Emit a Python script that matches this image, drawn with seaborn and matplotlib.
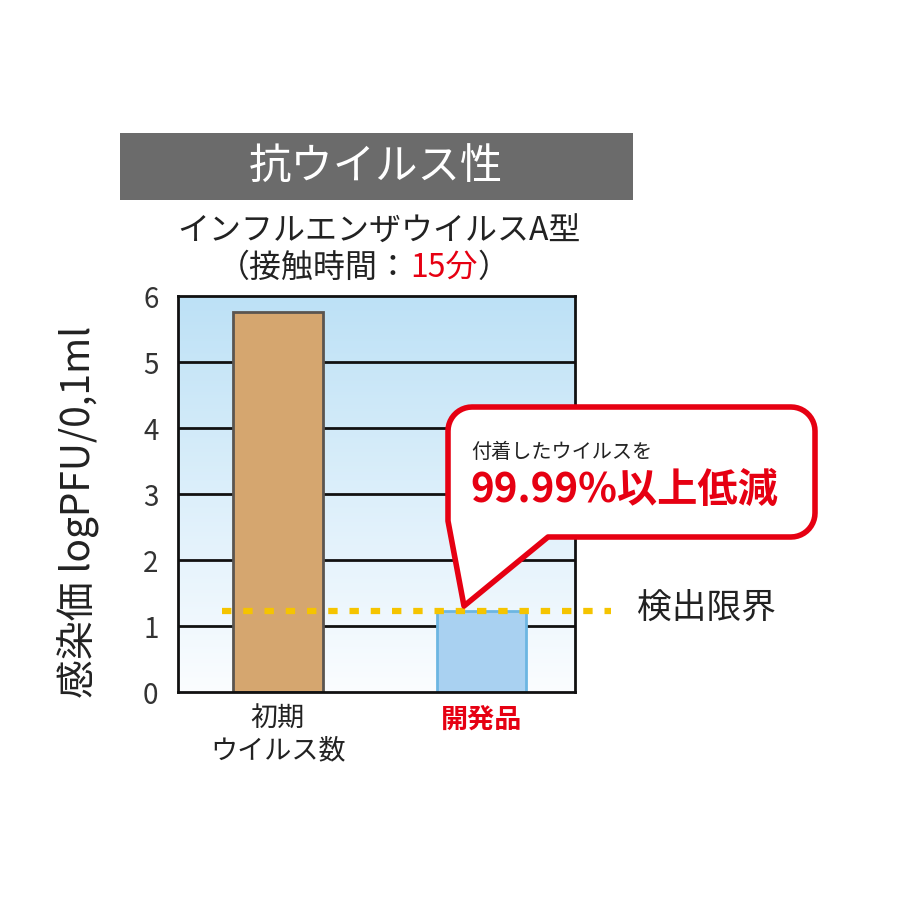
import numpy as np
import matplotlib
matplotlib.use("Agg")
import matplotlib.pyplot as plt
import seaborn as sns
from matplotlib.patches import Rectangle, Polygon
from matplotlib.colors import LinearSegmentedColormap

# ---- data ----
categories = ["初期\nウイルス数", "開発品"]
values = [5.76, 1.23]
detection_limit = 1.23
yticks = [0, 1, 2, 3, 4, 5, 6]
bar_colors = ["#d5a66f", "#a9d1f1"]
bar_edges = ["#5a5550", "#6cb6e2"]

sns.set_theme(style="white")
plt.rcParams['font.family'] = ['Noto Sans CJK JP', 'DejaVu Sans']

W = H = 900
fig = plt.figure(figsize=(9, 9), dpi=100)
fig.patch.set_facecolor("white")

def fx(px):
    return px / W

def fy(py):
    return 1 - py / H

ax = fig.add_axes([fx(178), fy(692), fx(575) - fx(178), fy(296) - fy(692)])

# gradient background
grad = np.linspace(0, 1, 256).reshape(-1, 1)
cmap = LinearSegmentedColormap.from_list("bg", ["#fbfdff", "#bde1f6"])
ax.imshow(grad, aspect="auto", cmap=cmap, origin="lower",
          extent=[-0.49, 1.46, 0, 6], zorder=0)

# grid lines
for v in yticks[1:-1]:
    ax.axhline(v, color="#111111", lw=2.0, zorder=1)

sns.barplot(x=categories, y=values, hue=categories, palette=bar_colors,
            width=0.44, legend=False, ax=ax, zorder=2, saturation=1)
for p, ec in zip(ax.patches, bar_edges):
    p.set_edgecolor(ec)
    p.set_linewidth(2.0)
    p.set_zorder(2)

ax.set_xlim(-0.49, 1.46)
ax.set_ylim(0, 6)
ax.set_yticks(yticks)
ax.set_yticklabels([str(t) for t in yticks], fontsize=20, color="#333333")
ax.tick_params(axis="y", length=0, pad=14)
ax.tick_params(axis="x", length=0, pad=10)
ax.set_xlabel("")
xl = ax.get_xticklabels()
xl[0].set_fontsize(19.5)
xl[0].set_color("#222222")
xl[1].set_fontsize(19.5)
xl[1].set_color("#e60012")
xl[1].set_fontweight("bold")

ax.set_ylabel("感染価 logPFU/0,1ml", fontsize=28, color="#222222")
ax.yaxis.set_label_coords(-0.2, 0.455)

for s in ax.spines.values():
    s.set_color("#111111")
    s.set_linewidth(2.0)
    s.set_zorder(4)

# detection limit dotted line
ax.plot([-0.275, 1.635], [detection_limit, detection_limit], color="#f5c400",
        lw=4.5, linestyle=(0, (1.5, 1.9)), clip_on=False, zorder=3,
        solid_capstyle="butt", dash_capstyle="butt")
fig.text(fx(637), fy(608), "検出限界", fontsize=25, color="#222222",
         ha="left", va="center")

# title box
fig.patches.append(Rectangle((fx(120), fy(200)), fx(633) - fx(120), fy(133) - fy(200),
                             transform=fig.transFigure, facecolor="#6b6b6b",
                             edgecolor="none", zorder=1))
fig.text(fx(376), fy(168), "抗ウイルス性", fontsize=30.5, color="white",
         ha="center", va="center", zorder=2)

fig.text(fx(379), fy(232), "インフルエンザウイルスA型", fontsize=23,
         color="#222222", ha="center", va="center")

# second subtitle line with red part
renderer = fig.canvas.get_renderer()
parts = [("（接触時間：", "#222222"), ("15分", "#e60012"), ("）", "#222222")]
texts = []
widths = []
for s, c in parts:
    t = fig.text(0, fy(268), s, fontsize=23, color=c, ha="left", va="center")
    texts.append(t)
    widths.append(t.get_window_extent(renderer=renderer).width)
total = sum(widths)
x0 = 364 - total / 2
for t, w in zip(texts, widths):
    t.set_x(fx(x0))
    x0 += w

# callout bubble
L, R, T, B, r = 448, 815, 407, 537, 24
pts = []
def arc(cx, cy, a0, a1):
    th = np.linspace(np.radians(a0), np.radians(a1), 12)
    return [(cx + r * np.cos(t), cy + r * np.sin(t)) for t in th]
pts += [(L + r, T), (R - r, T)]
pts += arc(R - r, T + r, -90, 0)
pts += [(R, B - r)]
pts += arc(R - r, B - r, 0, 90)
pts += [(548, B), (464, 606), (L, B - 16), (L, T + r)]
pts += arc(L + r, T + r, 180, 270)
fpts = [(fx(x), fy(y)) for x, y in pts]
fig.patches.append(Polygon(fpts, closed=True, transform=fig.transFigure,
                           facecolor="white", edgecolor="#e60012", lw=4.0,
                           joinstyle="round", zorder=5))
fig.text(fx(471), fy(452), "付着したウイルスを", fontsize=14.5, color="#222222",
         ha="left", va="center", zorder=6)
fig.text(fx(470), fy(490), "99.99%以上低減", fontsize=29, color="#e60012",
         fontweight="bold", ha="left", va="center", zorder=6)

fig.savefig("out.png", dpi=100, facecolor="white")
